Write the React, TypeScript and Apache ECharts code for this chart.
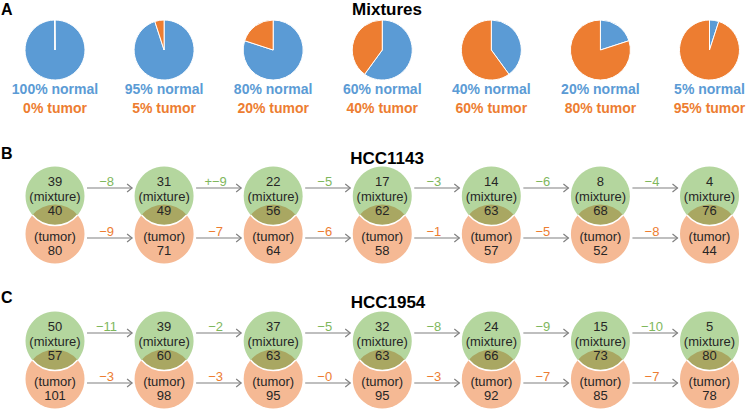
import React, { useEffect, useRef } from "react";
import * as echarts from "echarts";

// ---- Data ----
const steps = [0, 1, 2, 3, 4, 5, 6];
const pieNormal = [100, 95, 80, 60, 40, 20, 5];
const pieTumor = [0, 5, 20, 40, 60, 80, 95];

const hcc1143Mixture = [39, 31, 22, 17, 14, 8, 4];
const hcc1143Overlap = [40, 49, 56, 62, 63, 68, 76];
const hcc1143Tumor = [80, 71, 64, 58, 57, 52, 44];
const hcc1143MixDelta = ["\u22128", "+\u22129", "\u22125", "\u22123", "\u22126", "\u22124"];
const hcc1143TumDelta = ["\u22129", "\u22127", "\u22126", "\u22121", "\u22125", "\u22128"];

const hcc1954Mixture = [50, 39, 37, 32, 24, 15, 5];
const hcc1954Overlap = [57, 60, 63, 63, 66, 73, 80];
const hcc1954Tumor = [101, 98, 95, 95, 92, 85, 78];
const hcc1954MixDelta = ["\u221211", "\u22122", "\u22125", "\u22128", "\u22129", "\u221210"];
const hcc1954TumDelta = ["\u22123", "\u22123", "\u22120", "\u22123", "\u22127", "\u22127"];

// ---- Style constants ----
const FONT = "'Liberation Sans', Arial, Helvetica, sans-serif";
const BLUE = "#5b9bd5";
const ORANGE = "#ed7d31";
const GREEN_FILL = "#b4d69e";
const ORANGE_FILL = "#f5b994";
const OLIVE = "#a9a762";
const GREEN_TEXT = "#7fb75d";
const ARROW = "#808080";
const TEXT = "#262626";

const LEFT = 55;
const RIGHT = 43.5;
const W = 753;
const H = 410;
const STEP_PX = (W - LEFT - RIGHT) / 6;
const PIE_Y = 50;
const PIE_R = 30;
const R = 29.5;
const GAP = 38;

function vennRender(greenY: number, mixture: number[], overlap: number[], tumor: number[]) {
  return (params: any, api: any) => {
    const i = params.dataIndex;
    const c = api.coord([api.value(0), greenY]);
    const cx = c[0];
    const g = c[1];
    const o = g + GAP;
    const half = GAP / 2;
    const w = Math.sqrt(R * R - half * half);
    const ym = g + half;
    const txt = (t: string, y: number) => ({
      type: "text",
      x: cx,
      y,
      style: {
        text: t,
        fill: TEXT,
        fontSize: 13,
        lineHeight: 13,
        fontFamily: FONT,
        align: "center",
        verticalAlign: "middle",
      },
    });
    return {
      type: "group",
      children: [
        { type: "circle", shape: { cx, cy: o, r: R }, style: { fill: ORANGE_FILL } },
        { type: "circle", shape: { cx, cy: g, r: R }, style: { fill: GREEN_FILL } },
        {
          type: "path",
          shape: {
            pathData: `M${cx - w} ${ym} A${R} ${R} 0 0 1 ${cx + w} ${ym} A${R} ${R} 0 0 1 ${cx - w} ${ym} Z`,
          },
          style: { fill: OLIVE },
        },
        {
          type: "path",
          shape: { pathData: `M${cx + w} ${ym} A${R} ${R} 0 0 1 ${cx - w} ${ym}` },
          style: { fill: "none", stroke: "#ffffff", lineWidth: 1.5 },
        },
        txt(String(mixture[i]), g - 15),
        txt("(mixture)", g),
        txt(String(overlap[i]), g + 14),
        txt("(tumor)", o + 2.5),
        txt(String(tumor[i]), o + 16.5),
      ],
    };
  };
}

function arrowRender(greenY: number, mixDelta: string[], tumDelta: string[]) {
  return (params: any, api: any) => {
    const i = params.dataIndex;
    const a = api.coord([api.value(0), greenY]);
    const b = api.coord([api.value(1), greenY]);
    const x1 = a[0] + R + 2.5;
    const x2 = b[0] - R - 2.5;
    const g = a[1];
    const o = g + GAP;
    const rows = [
      { y: g - 8, label: mixDelta[i], color: GREEN_TEXT },
      { y: o + 4, label: tumDelta[i], color: ORANGE },
    ];
    const children: any[] = [];
    rows.forEach((r) => {
      children.push({
        type: "line",
        shape: { x1, y1: r.y, x2, y2: r.y },
        style: { stroke: ARROW, lineWidth: 1.2 },
      });
      children.push({
        type: "polyline",
        shape: { points: [[x2 - 5, r.y - 4], [x2, r.y], [x2 - 5, r.y + 4]] },
        style: { stroke: ARROW, fill: "none", lineWidth: 1.2 },
      });
      children.push({
        type: "text",
        x: (x1 + x2) / 2 - 3,
        y: r.y - 7,
        style: {
          text: r.label,
          fill: r.color,
          fontSize: 13,
          lineHeight: 13,
          fontFamily: FONT,
          align: "center",
          verticalAlign: "middle",
        },
      });
    });
    return { type: "group", children };
  };
}

export default function App() {
  const ref = useRef<HTMLDivElement>(null);
  useEffect(() => {
    document.body.style.margin = "0";
    if (!ref.current) return;
    const chart = echarts.init(ref.current, undefined, { renderer: "svg" });

    const pies = steps.map((s, i) => ({
      type: "pie",
      center: [LEFT + s * STEP_PX, PIE_Y],
      radius: PIE_R,
      startAngle: 90,
      clockwise: true,
      minAngle: 1,
      silent: true,
      label: { show: false },
      labelLine: { show: false },
      emphasis: { disabled: true },
      itemStyle: { borderColor: "#ffffff", borderWidth: 1 },
      data: [
        { value: pieNormal[i], name: "normal", itemStyle: { color: BLUE } },
        { value: pieTumor[i], name: "tumor", itemStyle: { color: ORANGE } },
      ],
    }));

    const captionSeries = {
      type: "custom",
      silent: true,
      clip: false,
      data: steps.map((s, i) => [s, pieNormal[i], pieTumor[i]]),
      renderItem: (params: any, api: any) => {
        const i = params.dataIndex;
        const p1 = api.coord([api.value(0), 89]);
        const p2 = api.coord([api.value(0), 108]);
        const mk = (t: string, p: number[], color: string) => ({
          type: "text",
          x: p[0],
          y: p[1],
          style: {
            text: t,
            fill: color,
            fontSize: 14,
            lineHeight: 15,
            fontWeight: "bold",
            fontFamily: FONT,
            align: "center",
            verticalAlign: "middle",
          },
        });
        return {
          type: "group",
          children: [
            mk(`${pieNormal[i]}% normal`, p1, BLUE),
            mk(`${pieTumor[i]}% tumor`, p2, ORANGE),
          ],
        };
      },
    };

    const rowB = 196;
    const rowC = 341;

    const titleStyle = (text: string) => ({
      text,
      fontSize: 17,
      lineHeight: 17,
      fontWeight: "bold",
      fontFamily: FONT,
      fill: "#000",
      align: "center",
      verticalAlign: "middle",
    });
    const panelStyle = (text: string) => ({
      text,
      fontSize: 16,
      lineHeight: 16,
      fontWeight: "bold",
      fontFamily: FONT,
      fill: "#000",
      verticalAlign: "middle",
    });

    const option: any = {
      animation: false,
      grid: { left: LEFT, right: RIGHT, top: 0, bottom: 0 },
      xAxis: { type: "value", min: 0, max: 6, show: false },
      yAxis: { type: "value", min: 0, max: H, inverse: true, show: false },
      graphic: [
        { type: "text", x: 1, y: 9, style: panelStyle("A") },
        { type: "text", x: 1, y: 153.5, style: panelStyle("B") },
        { type: "text", x: 1, y: 297.5, style: panelStyle("C") },
        { type: "text", x: 387, y: 9, style: titleStyle("Mixtures") },
        { type: "text", x: 387, y: 158, style: titleStyle("HCC1143") },
        { type: "text", x: 388, y: 302, style: titleStyle("HCC1954") },
      ],
      series: [
        ...pies,
        captionSeries,
        {
          type: "custom",
          silent: true,
          clip: false,
          data: hcc1143MixDelta.map((_, i) => [steps[i], steps[i + 1]]),
          renderItem: arrowRender(rowB, hcc1143MixDelta, hcc1143TumDelta),
        },
        {
          type: "custom",
          silent: true,
          clip: false,
          data: steps.map((s, i) => [s, hcc1143Mixture[i], hcc1143Overlap[i], hcc1143Tumor[i]]),
          renderItem: vennRender(rowB, hcc1143Mixture, hcc1143Overlap, hcc1143Tumor),
        },
        {
          type: "custom",
          silent: true,
          clip: false,
          data: hcc1954MixDelta.map((_, i) => [steps[i], steps[i + 1]]),
          renderItem: arrowRender(rowC, hcc1954MixDelta, hcc1954TumDelta),
        },
        {
          type: "custom",
          silent: true,
          clip: false,
          data: steps.map((s, i) => [s, hcc1954Mixture[i], hcc1954Overlap[i], hcc1954Tumor[i]]),
          renderItem: vennRender(rowC, hcc1954Mixture, hcc1954Overlap, hcc1954Tumor),
        },
      ],
    };
    chart.setOption(option);
    return () => chart.dispose();
  }, []);
  return (
    <div
      ref={ref}
      style={{ position: "absolute", left: 0, top: 0, width: W, height: H, background: "#fff" }}
    />
  );
}
